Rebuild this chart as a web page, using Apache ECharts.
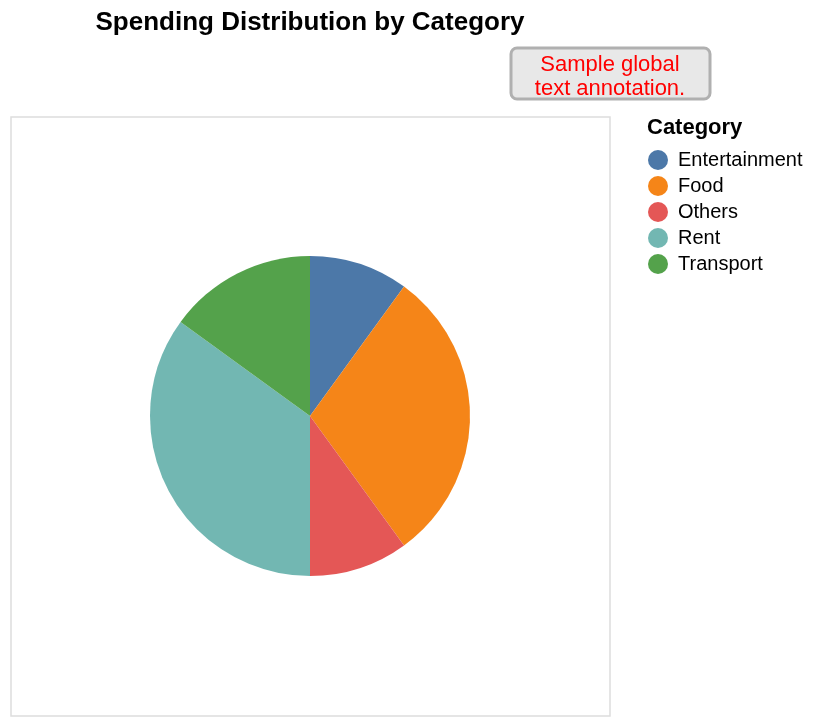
<!DOCTYPE html>
<html>
<head>
<meta charset="utf-8">
<script src="https://cdn.jsdelivr.net/npm/echarts@6/dist/echarts.min.js"></script>
<style>
  html, body { margin: 0; padding: 0; background: #fff; }
  #chart { width: 814px; height: 726px; }
</style>
</head>
<body>
<div id="chart"></div>
<script>
var categories = ['Entertainment', 'Food', 'Others', 'Rent', 'Transport'];
var spending = [10, 30, 10, 35, 15];
var colors = ['#4c78a8', '#f58518', '#e45756', '#72b7b2', '#54a24b'];
var annotationLines = ['Sample global', 'text annotation.'];

var myChart = echarts.init(document.getElementById('chart'));

var pieData = [];
for (var i = 0; i < categories.length; i++) {
    pieData.push({ name: categories[i], value: spending[i], itemStyle: { color: colors[i] } });
}

var font = 'Liberation Sans, Arial, Helvetica, sans-serif';

option = {
    animation: false,
    title: [
        {
            text: 'Spending Distribution by Category',
            left: 305,
            top: 5,
            textAlign: 'center',
            textStyle: { fontFamily: font, fontSize: 26, fontWeight: 'bold', color: '#000' }
        },
        {
            text: 'Category',
            left: 642,
            top: 112,
            textStyle: { fontFamily: font, fontSize: 22, fontWeight: 'bold', color: '#000' }
        }
    ],
    legend: {
        orient: 'vertical',
        left: 648,
        top: 150,
        padding: 0,
        icon: 'circle',
        itemWidth: 20,
        itemHeight: 20,
        itemGap: 6,
        data: categories,
        selectedMode: false,
        textStyle: { fontFamily: font, fontSize: 20, lineHeight: 20, color: '#000', padding: [0, 0, 0, 5] }
    },
    graphic: [
        {
            type: 'rect',
            shape: { x: 11, y: 117, width: 599, height: 599 },
            style: { fill: 'none', stroke: '#dddddd', lineWidth: 1.5 },
            silent: true
        },
        {
            type: 'rect',
            shape: { x: 511, y: 48, width: 199, height: 51, r: 6 },
            style: { fill: '#e8e8e8', stroke: '#b0b0b0', lineWidth: 3 },
            silent: true
        },
        {
            type: 'text',
            x: 610,
            y: 53,
            style: {
                text: annotationLines.join('\n'),
                fill: '#ff0000',
                font: '22px ' + font,
                align: 'center',
                lineHeight: 24
            },
            silent: true
        }
    ],
    series: [
        {
            name: 'Spending',
            type: 'pie',
            center: [310, 416],
            radius: 160,
            startAngle: 90,
            clockwise: true,
            label: { show: false },
            labelLine: { show: false },
            emphasis: { disabled: true },
            data: pieData
        }
    ]
};
myChart.setOption(option);
</script>
</body>
</html>
